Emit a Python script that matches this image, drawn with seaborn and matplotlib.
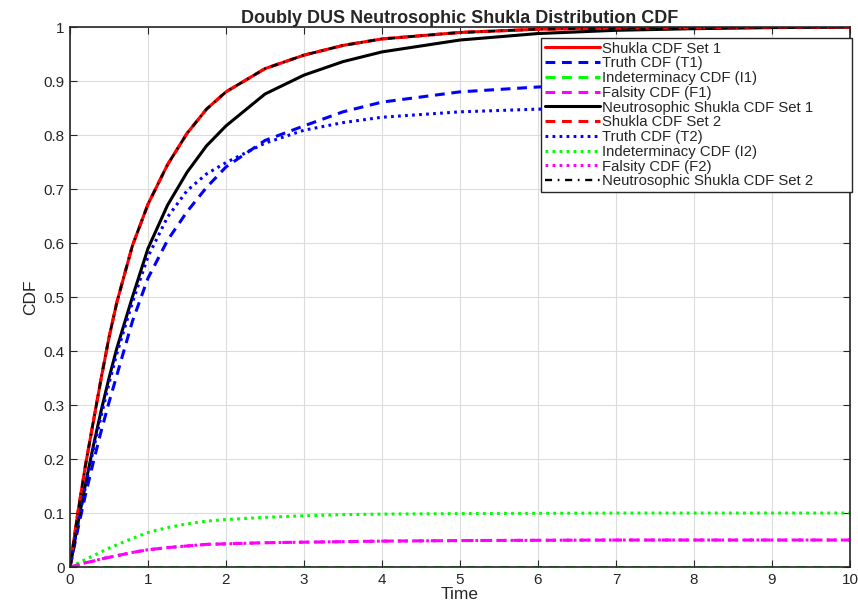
import numpy as np
import pandas as pd
import matplotlib
matplotlib.use("Agg")
import matplotlib.pyplot as plt
import seaborn as sns

# time points
time = [0, 0.1, 0.2, 0.3, 0.4, 0.5, 0.6, 0.8, 1.0, 1.25, 1.5, 1.75, 2.0,
        2.5, 3.0, 3.5, 4.0, 5.0, 6.0, 7.0, 8.0, 9.0, 10.0]

shukla_set1 = [0, 0.10, 0.19, 0.27, 0.35, 0.425, 0.49, 0.595, 0.672, 0.745, 0.803, 0.848, 0.88,
               0.923, 0.948, 0.966, 0.978, 0.99, 0.996, 0.998, 0.999, 1.0, 1.0]
truth_t1 = [0, 0.07, 0.135, 0.195, 0.252, 0.305, 0.355, 0.455, 0.535, 0.605, 0.658, 0.703, 0.741,
            0.79, 0.817, 0.843, 0.861, 0.88, 0.889, 0.894, 0.897, 0.899, 0.9]
indet_i1 = [0] * len(time)
falsity_f1 = [0, 0.004, 0.008, 0.011, 0.015, 0.018, 0.021, 0.027, 0.032, 0.036, 0.039, 0.042, 0.043,
              0.045, 0.046, 0.047, 0.048, 0.049, 0.0495, 0.05, 0.05, 0.05, 0.05]
neutro_set1 = [0, 0.08, 0.155, 0.225, 0.29, 0.35, 0.405, 0.50, 0.59, 0.67, 0.731, 0.78, 0.817,
               0.876, 0.911, 0.936, 0.954, 0.976, 0.988, 0.994, 0.997, 0.999, 1.0]
shukla_set2 = shukla_set1
truth_t2 = [0, 0.078, 0.15, 0.218, 0.28, 0.34, 0.395, 0.49, 0.575, 0.648, 0.697, 0.728, 0.749,
            0.785, 0.809, 0.823, 0.833, 0.843, 0.848, 0.849, 0.85, 0.85, 0.85]
indet_i2 = [0, 0.007, 0.014, 0.021, 0.028, 0.035, 0.041, 0.053, 0.064, 0.073, 0.080, 0.085, 0.088,
            0.092, 0.095, 0.097, 0.098, 0.099, 0.0995, 0.1, 0.1, 0.1, 0.1]
falsity_f2 = falsity_f1
neutro_set2 = shukla_set1

DASH = (0, (3.2, 2.2))
DOT = (0, (0.9, 1.4))
DASHDOT = (0, (3, 2.4, 0.7, 2.4))

series = [
    ("Shukla CDF Set 1", shukla_set1, "#ff0000", "-"),
    ("Truth CDF (T1)", truth_t1, "#0000ff", DASH),
    ("Indeterminacy CDF (I1)", indet_i1, "#00ff00", DASH),
    ("Falsity CDF (F1)", falsity_f1, "#ff00ff", DASH),
    ("Neutrosophic Shukla CDF Set 1", neutro_set1, "#000000", "-"),
    ("Shukla CDF Set 2", shukla_set2, "#ff0000", DASH),
    ("Truth CDF (T2)", truth_t2, "#0000ff", DOT),
    ("Indeterminacy CDF (I2)", indet_i2, "#00ff00", DOT),
    ("Falsity CDF (F2)", falsity_f2, "#ff00ff", DOT),
    ("Neutrosophic Shukla CDF Set 2", neutro_set2, "#000000", DASHDOT),
]

sns.set_style("whitegrid")
plt.rcParams['font.family'] = ['Liberation Sans', 'DejaVu Sans']

fig = plt.figure(figsize=(8.58, 6.15), dpi=100)
ax = fig.add_axes([0.0816, 0.078, 0.909, 0.878])

for name, vals, col, ls in series:
    df = pd.DataFrame({"Time": time, "CDF": vals})
    lw = 1.7 if ls == DASHDOT else 2.2
    z = 1.5 if name.endswith("(I1)") else 2
    sns.lineplot(data=df, x="Time", y="CDF", ax=ax, color=col, linestyle=ls,
                 linewidth=lw, label=name, zorder=z)

ax.set_xlim(0, 10)
ax.set_ylim(0, 1)
ax.set_xticks(range(0, 11))
ax.set_yticks(np.round(np.arange(0, 1.01, 0.1), 1))
ax.set_yticklabels(["0", "0.1", "0.2", "0.3", "0.4", "0.5", "0.6", "0.7", "0.8", "0.9", "1"])
ax.grid(True, color="#dcdcdc", linewidth=0.8)
ax.tick_params(direction="in", length=5, labelsize=11, top=True, right=True,
               bottom=True, left=True, colors="#262626", pad=4)
for s in ax.spines.values():
    s.set_color("#262626")
    s.set_linewidth(1.2)
    s.set_zorder(3)
ax.set_xlabel("Time", fontsize=12.5, labelpad=0)
ax.set_ylabel("CDF", fontsize=12.5, labelpad=4)
ax.set_title("Doubly DUS Neutrosophic Shukla Distribution CDF", fontsize=13,
             fontweight="bold", pad=3)

# legend box stretched to the width it has in the original
leg = ax.legend(loc="upper left", bbox_to_anchor=(0.604, 0.6926, 0.399, 0.2874),
                mode="expand", fontsize=10.7,
                frameon=True, fancybox=False, framealpha=1, edgecolor="#262626",
                handlelength=3.7, handletextpad=0.15, labelspacing=0.05,
                borderpad=0.25, borderaxespad=0.0)
leg.get_frame().set_linewidth(1.0)

fig.savefig("out.png", dpi=100)
